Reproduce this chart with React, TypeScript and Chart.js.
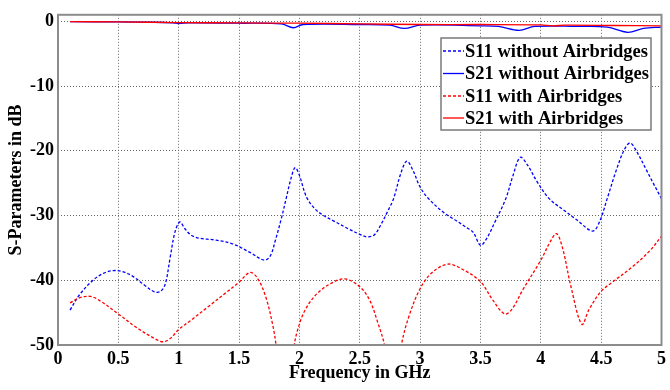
import React, { useEffect, useRef } from "react";
import { Chart, registerables } from "chart.js";

Chart.register(...registerables);

const xTicks = [0, 0.5, 1, 1.5, 2, 2.5, 3, 3.5, 4, 4.5, 5];
const yTicks = [-50, -40, -30, -20, -10, 0];

const s11WithoutF = [0.1, 0.18, 0.29, 0.38, 0.46, 0.54, 0.62, 0.72, 0.8, 0.85, 0.89, 0.93, 0.97, 1.01, 1.05, 1.1, 1.17, 1.31, 1.45, 1.59, 1.71, 1.76, 1.8, 1.85, 1.89, 1.93, 1.965, 2.0, 2.06, 2.13, 2.2, 2.29, 2.4, 2.5, 2.56, 2.62, 2.67, 2.73, 2.78, 2.84, 2.89, 2.94, 3.0, 3.07, 3.2, 3.3, 3.38, 3.44, 3.5, 3.55, 3.62, 3.71, 3.77, 3.83, 3.89, 3.97, 4.07, 4.2, 4.3, 4.43, 4.49, 4.55, 4.62, 4.69, 4.74, 4.8, 4.87, 4.94, 5.0];
const s11WithoutDb = [-44.6, -42.2, -40.0, -38.9, -38.5, -38.7, -39.4, -40.8, -41.8, -41.7, -40.5, -36.4, -32.5, -31.0, -32.0, -33.0, -33.5, -33.8, -34.4, -35.7, -36.9, -36.2, -33.9, -30.5, -27.4, -24.3, -22.6, -23.8, -27.2, -29.0, -30.0, -30.9, -32.0, -32.9, -33.3, -33.0, -31.6, -29.4, -27.4, -23.5, -21.6, -23.0, -25.6, -27.4, -29.6, -30.8, -31.8, -32.6, -34.6, -33.6, -31.0, -27.4, -23.8, -21.0, -22.2, -24.8, -27.4, -29.3, -30.7, -32.4, -30.8, -27.4, -23.3, -19.9, -18.8, -20.3, -22.8, -25.3, -27.4];

const s21WithoutF = [0.1, 0.5, 0.8, 0.95, 1.0, 1.08, 1.5, 1.85, 1.95, 2.03, 2.5, 2.75, 2.87, 3.0, 3.5, 3.65, 3.82, 3.95, 4.3, 4.55, 4.72, 4.85, 5.0];
const s21WithoutDb = [-0.05, -0.1, -0.15, -0.25, -0.35, -0.25, -0.3, -0.4, -1.0, -0.5, -0.5, -0.6, -1.1, -0.6, -0.7, -0.8, -1.4, -0.8, -0.8, -0.9, -1.7, -1.1, -0.9];

const s11WithF = [0.1, 0.18, 0.27, 0.35, 0.5, 0.65, 0.8, 0.87, 0.93, 1.0, 1.1, 1.25, 1.4, 1.5, 1.59, 1.65, 1.72, 1.78, 1.81, 1.88, 1.95, 1.98, 2.05, 2.15, 2.27, 2.38, 2.5, 2.58, 2.64, 2.71, 2.77, 2.84, 2.9, 3.0, 3.1, 3.23, 3.35, 3.5, 3.6, 3.7, 3.76, 3.85, 4.0, 4.08, 4.13, 4.18, 4.25, 4.34, 4.4, 4.5, 4.6, 4.76, 4.9, 5.0];
const s11WithDb = [-43.5, -42.7, -42.5, -43.2, -45.2, -47.3, -49.0, -49.5, -49.0, -47.6, -46.2, -44.0, -41.8, -40.3, -38.8, -39.6, -42.5, -47.0, -50.5, -62.0, -51.0, -48.0, -44.5, -42.0, -40.4, -39.8, -41.0, -43.0, -46.0, -50.5, -60.0, -50.5, -46.0, -41.3, -38.8, -37.5, -38.3, -40.2, -43.0, -45.2, -44.5, -41.5, -36.9, -34.0, -32.8, -35.0, -41.0, -46.8, -44.5, -41.7, -40.2, -37.9, -35.5, -33.2];

const s21WithF = [0.1, 0.5, 1.0, 1.5, 2.0, 2.5, 3.0, 3.5, 4.0, 4.1, 4.2, 4.6, 5.0];
const s21WithDb = [-0.05, -0.1, -0.2, -0.25, -0.3, -0.4, -0.5, -0.5, -0.55, -0.7, -0.6, -0.65, -0.7];

const seriesLabels = [
  "S11 without Airbridges",
  "S21 without Airbridges",
  "S11 with Airbridges",
  "S21 with Airbridges",
];

const pts = (f: number[], v: number[]) => f.map((x, i) => ({ x, y: v[i] }));

const FONT = "'Liberation Serif', 'Times New Roman', serif";

const framePlugin = {
  id: "frame",
  afterDatasetsDraw(chart: any) {
    const { ctx, chartArea: a } = chart;
    ctx.save();
    ctx.strokeStyle = "#8c8c8c";
    ctx.lineWidth = 2;
    ctx.strokeRect(a.left, a.top, a.right - a.left, a.bottom - a.top);

    // legend box
    const bx = 441, by = 38, bw = 210, bh = 92;
    ctx.fillStyle = "#ffffff";
    ctx.fillRect(bx, by, bw, bh);
    ctx.strokeStyle = "#7a7a7a";
    ctx.lineWidth = 1.5;
    ctx.strokeRect(bx, by, bw, bh);
    const rows = [51, 73.5, 96, 118];
    ctx.font = "bold 18.5px " + FONT;
    ctx.textBaseline = "middle";
    ctx.textAlign = "left";
    chart.data.datasets.forEach((ds: any, i: number) => {
      const y = rows[i];
      ctx.beginPath();
      ctx.strokeStyle = ds.borderColor;
      ctx.lineWidth = 1.3;
      ctx.setLineDash(ds.borderDash || []);
      ctx.moveTo(443, y);
      ctx.lineTo(464, y);
      ctx.stroke();
      ctx.setLineDash([]);
      ctx.fillStyle = "#000";
      ctx.fillText(ds.label, 465, y + 1);
    });
    ctx.restore();
  },
};

export default function App() {
  const ref = useRef<HTMLCanvasElement>(null);
  useEffect(() => {
    if (!ref.current) return;
    const common = { borderWidth: 1.3, pointRadius: 0, tension: 0.35 };
    const chart = new Chart(ref.current, {
      type: "line",
      data: {
        datasets: [
          { label: seriesLabels[0], data: pts(s11WithoutF, s11WithoutDb), borderColor: "#0000ff", borderDash: [3, 2], order: 4, ...common },
          { label: seriesLabels[1], data: pts(s21WithoutF, s21WithoutDb), borderColor: "#0000ff", order: 3, ...common },
          { label: seriesLabels[2], data: pts(s11WithF, s11WithDb), borderColor: "#ff0000", borderDash: [3, 2], order: 2, ...common },
          { label: seriesLabels[3], data: pts(s21WithF, s21WithDb), borderColor: "#ff0000", order: 1, ...common },
        ] as any,
      },
      options: {
        animation: false,
        responsive: false,
        maintainAspectRatio: false,
        layout: { padding: { top: 7, right: 5, left: 0, bottom: 0 } },
        plugins: { legend: { display: false }, tooltip: { enabled: false } },
        scales: {
          x: {
            type: "linear",
            min: 0,
            max: 5,
            afterBuildTicks: (s: any) => { s.ticks = xTicks.map((v) => ({ value: v })); },
            afterFit: (s: any) => { s.height = 45; },
            ticks: { color: "#000", padding: 4, font: { family: FONT, size: 18, weight: "bold" }, maxRotation: 0, autoSkip: false, callback: (v: any) => String(v) },
            grid: { color: "#666", lineWidth: 1, drawTicks: false, tickLength: 0, borderDash: [1, 2] },
            border: { display: false, dash: [1, 2] },
            title: { display: true, text: "Frequency in GHz", color: "#000", font: { family: FONT, size: 18, weight: "bold" }, padding: { top: 0, bottom: 6 } },
          },
          y: {
            type: "linear",
            min: -50,
            max: 1,
            afterBuildTicks: (s: any) => { s.ticks = yTicks.map((v) => ({ value: v })); },
            afterFit: (s: any) => { s.width = 58; },
            ticks: { color: "#000", padding: 4, font: { family: FONT, size: 18, weight: "bold" }, callback: (v: any) => String(v) },
            grid: { color: "#666", lineWidth: 1, drawTicks: false, tickLength: 0, borderDash: [1, 2] },
            border: { display: false, dash: [1, 2] },
            title: { display: true, text: "S-Parameters in dB", color: "#000", font: { family: FONT, size: 18, weight: "bold" }, padding: { top: 6, bottom: 0 } },
          },
        },
      } as any,
      plugins: [framePlugin],
    });
    return () => chart.destroy();
  }, []);
  return (
    <div style={{ position: "absolute", left: 0, top: 0, width: 670, height: 390, background: "#fff" }}>
      <canvas ref={ref} width={670} height={390} style={{ width: 670, height: 390 }} />
    </div>
  );
}
